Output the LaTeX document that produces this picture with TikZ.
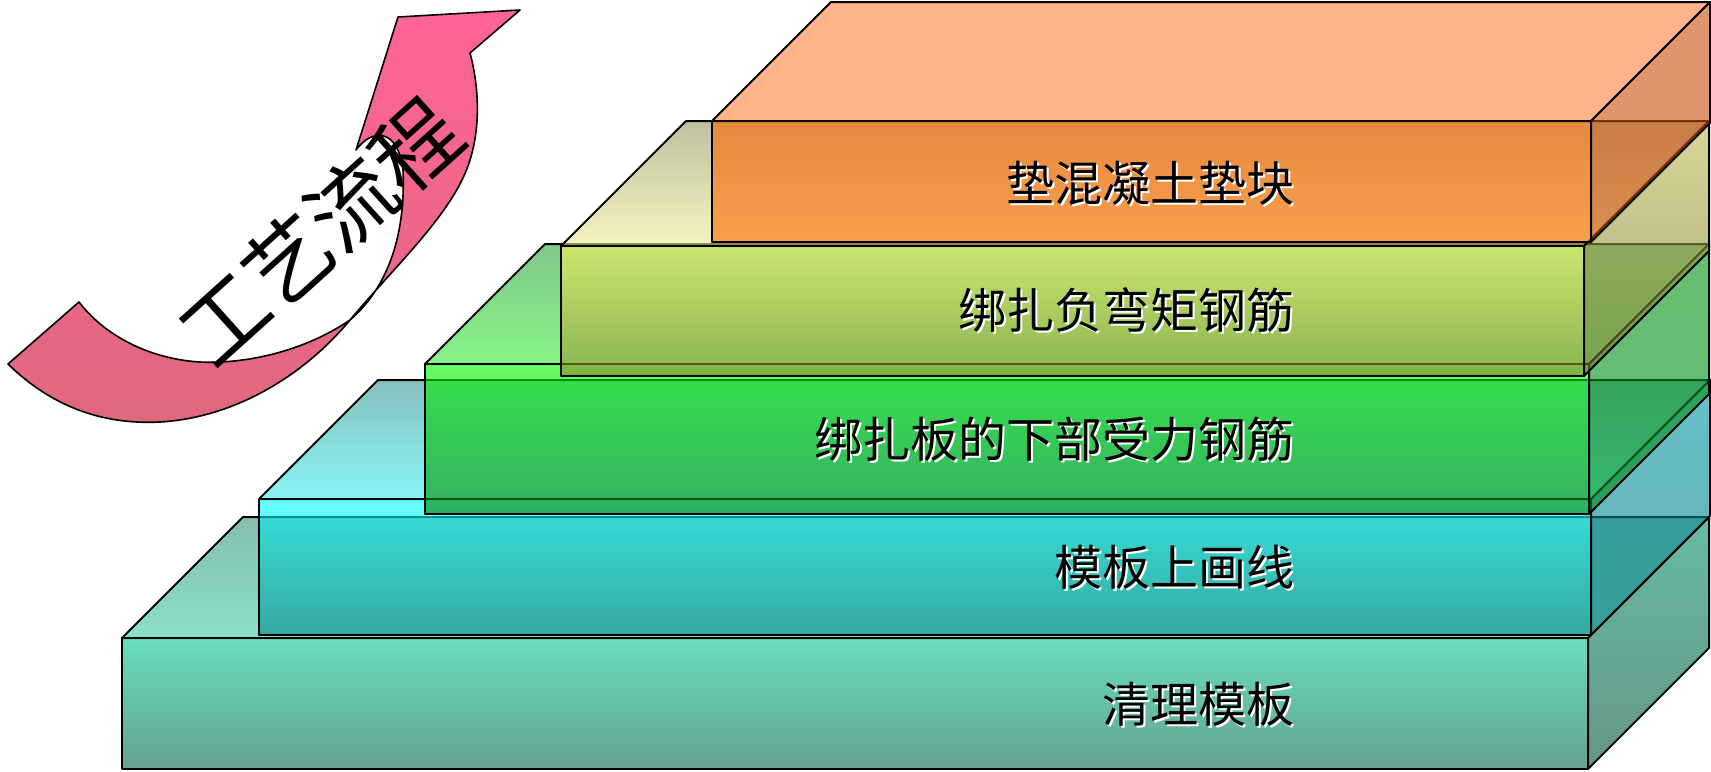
\documentclass[tikz,border=0pt]{standalone}
\usepackage{fontspec}
\newfontfamily\cjk{Noto Sans CJK SC}
\usepackage{tikz}

% slab colours (seen through 60% fill)
\definecolor{cleanfronthi}{RGB}{3,200,147}
\definecolor{cleanfrontlo}{RGB}{0,97,70}
\definecolor{cleantopback}{RGB}{53,147,123}
\definecolor{cleantopfront}{RGB}{60,202,163}
\definecolor{cleansidehi}{RGB}{0,140,105}
\definecolor{cleansidelo}{RGB}{0,80,55}
\definecolor{scribefronthi}{RGB}{0,255,255}
\definecolor{scribefrontlo}{RGB}{0,132,133}
\definecolor{scribetopback}{RGB}{57,150,150}
\definecolor{scribetopfront}{RGB}{57,237,237}
\definecolor{scribesidehi}{RGB}{0,150,165}
\definecolor{scribesidelo}{RGB}{0,120,120}
\definecolor{lowfronthi}{RGB}{0,255,0}
\definecolor{lowfrontlo}{RGB}{0,125,0}
\definecolor{lowtopback}{RGB}{43,163,57}
\definecolor{lowtopfront}{RGB}{57,235,57}
\definecolor{lowsidehi}{RGB}{0,150,20}
\definecolor{lowsidelo}{RGB}{0,140,30}
\definecolor{negfronthi}{RGB}{255,250,96}
\definecolor{negfrontlo}{RGB}{137,133,43}
\definecolor{negtopback}{RGB}{150,150,97}
\definecolor{negtopfront}{RGB}{238,238,150}
\definecolor{negsidehi}{RGB}{190,190,80}
\definecolor{negsidelo}{RGB}{110,108,42}
\definecolor{padfront}{RGB}{255,102,0}
\definecolor{padtop}{RGB}{255,128,57}
\definecolor{padside}{RGB}{203,80,10}
\definecolor{ribbonhi}{RGB}{255,100,150}
\definecolor{ribbonlo}{RGB}{222,104,125}

% one slab: #1 colour set, #2/#3 left/right x, #4/#5 top/bottom y, #6 depth
\newcommand{\slab}[6]{%
  \path[facet,#1top]   (#2,#4) -- (#2+#6,#4-#6) -- (#3+#6,#4-#6) -- (#3,#4) -- cycle;
  \path[facet,#1side]  (#3,#4) -- (#3+#6,#4-#6) -- (#3+#6,#5-#6) -- (#3,#5) -- cycle;
  \path[facet,#1front] (#2,#4) rectangle (#3,#5);
}

\begin{document}
\begin{tikzpicture}[x=0.5pt,y=-0.5pt,
  facet/.style={draw=black,line width=1pt,line join=round,fill opacity=0.6},
  cleantop/.style={top color=cleantopback,bottom color=cleantopfront},
  cleanside/.style={top color=cleansidehi,bottom color=cleansidelo},
  cleanfront/.style={top color=cleanfronthi,bottom color=cleanfrontlo},
  scribetop/.style={top color=scribetopback,bottom color=scribetopfront},
  scribeside/.style={top color=scribesidehi,bottom color=scribesidelo},
  scribefront/.style={top color=scribefronthi,bottom color=scribefrontlo},
  lowtop/.style={top color=lowtopback,bottom color=lowtopfront},
  lowside/.style={top color=lowsidehi,bottom color=lowsidelo},
  lowfront/.style={top color=lowfronthi,bottom color=lowfrontlo},
  negtop/.style={top color=negtopback,bottom color=negtopfront},
  negside/.style={top color=negsidehi,bottom color=negsidelo},
  negfront/.style={top color=negfronthi,bottom color=negfrontlo},
  padtop/.style={fill=padtop},
  padside/.style={fill=padside},
  padfront/.style={fill=padfront},
  ribbon/.style={draw=black,line width=0.8pt,line join=round,
                 top color=ribbonhi,bottom color=ribbonlo},
  steptext/.style={anchor=east,inner sep=0pt,font=\cjk\fontsize{24pt}{24pt}\selectfont},
  stepshadow/.style={steptext,text=white},
  titletext/.style={inner sep=0pt,font=\cjk\fontsize{43pt}{43pt}\selectfont}
]
\useasboundingbox (0,0) rectangle (1711,771);

% curved arrow
\path[ribbon] (79,302) -- (8,364)
  .. controls (50,405) and (100,425) .. (160,422)
  .. controls (230,418) and (300,380) .. (350,320)
  .. controls (390,272) and (440,225) .. (462,180)
  .. controls (482,140) and (480,90) .. (470,53)
  -- (520,10) -- (398,17) -- (356,150)
  .. controls (372,128) and (398,128) .. (403,170)
  .. controls (406,240) and (385,290) .. (350,320)
  .. controls (300,354) and (240,364) .. (200,362)
  .. controls (150,359) and (105,336) .. (79,302) -- cycle;
\node[titletext,rotate=42] (flow) at (320,232) {工艺流程};

% stacked slabs, bottom up
\slab{clean}{122}{1588}{638}{769}{121}
\slab{scribe}{259}{1591}{499}{635}{119}
\slab{low}{425}{1589}{364}{514}{120}
\slab{neg}{561}{1584}{246}{376}{125}
\slab{pad}{712}{1591}{121}{242}{119}

% step names
\node[stepshadow] (s1w) at (1297,706) {清理模板};
\node[steptext]   (s1)  at (1295,704) {清理模板};
\node[stepshadow] (s2w) at (1297,569) {模板上画线};
\node[steptext]   (s2)  at (1295,567) {模板上画线};
\node[stepshadow] (s3w) at (1297,441) {绑扎板的下部受力钢筋};
\node[steptext]   (s3)  at (1295,439) {绑扎板的下部受力钢筋};
\node[stepshadow] (s4w) at (1297,312) {绑扎负弯矩钢筋};
\node[steptext]   (s4)  at (1295,310) {绑扎负弯矩钢筋};
\node[stepshadow] (s5w) at (1297,185) {垫混凝土垫块};
\node[steptext]   (s5)  at (1295,183) {垫混凝土垫块};
\end{tikzpicture}
\end{document}
